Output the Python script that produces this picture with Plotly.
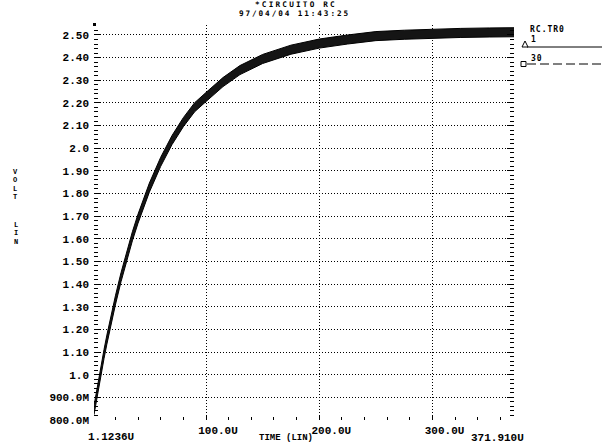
import plotly.graph_objects as go

# ---- data (time in microseconds, volts) ----
time_us = [1.1236, 3, 5, 7.5, 10, 12.5, 15, 17.5, 20, 25, 30, 35, 40, 45, 50,
           60, 70, 80, 90, 100, 115, 130, 150, 175, 200, 225, 250, 275, 300,
           325, 350, 371.91]
v_low = [0.823, 0.879, 0.936, 1.006, 1.072, 1.135, 1.195, 1.253, 1.308, 1.411,
         1.505, 1.591, 1.669, 1.741, 1.806, 1.920, 2.016, 2.095, 2.161, 2.206,
         2.272, 2.325, 2.374, 2.415, 2.442, 2.460, 2.475, 2.481, 2.486, 2.489,
         2.491, 2.492]
v_high = [0.863, 0.919, 0.976, 1.046, 1.112, 1.175, 1.235, 1.293, 1.348, 1.451,
          1.545, 1.631, 1.709, 1.781, 1.846, 1.960, 2.056, 2.135, 2.201, 2.246,
          2.312, 2.365, 2.414, 2.455, 2.482, 2.500, 2.515, 2.521, 2.526, 2.529,
          2.531, 2.532]

y_tick_vals = [0.8, 0.9, 1.0, 1.1, 1.2, 1.3, 1.4, 1.5, 1.6, 1.7, 1.8, 1.9,
               2.0, 2.1, 2.2, 2.3, 2.4, 2.5]
y_tick_text = ["800.0M", "900.0M", "1.0", "1.10", "1.20", "1.30", "1.40",
               "1.50", "1.60", "1.70", "1.80", "1.90", "2.0", "2.10", "2.20",
               "2.30", "2.40", "2.50"]
x_tick_vals = [100, 200, 300]
x_tick_text = ["100.0U", "200.0U", "300.0U"]
x_start, x_end = 1.1236, 371.91
x_start_text, x_end_text = "1.1236U", "371.910U"
y_min, y_max = 0.8, 2.544

title_lines = ["*CIRCUITO RC", "97/04/04 11:43:25"]
legend_file = "RC.TR0"
legend_nodes = ["1", "30"]
y_title_words = ["VOLT", "LIN"]
x_title = "TIME (LIN)"

FONT = "Liberation Mono"
FONT2 = "DejaVu Sans Mono"
BASE_FONT = dict(family=FONT, size=11, color="black", weight="bold")
SMALL_FONT = dict(family=FONT2, size=7.7, color="black", weight="bold")
W, H = 612, 448
L, R, T, B = 94, 514, 25, 420


def px(x):
    return (x - L) / (R - L)


def py(y):
    return (B - y) / (B - T)


def spaced(s, ls):
    return f"<span style='letter-spacing:{ls}px'>{s}</span>"


fig = go.Figure()
fig.add_trace(go.Scatter(x=time_us, y=v_high, mode="lines",
                         line=dict(color="black", width=1), showlegend=False,
                         hoverinfo="skip"))
fig.add_trace(go.Scatter(x=time_us, y=v_low, mode="lines", fill="tonexty",
                         fillcolor="#151515",
                         line=dict(color="black", width=1), showlegend=False,
                         hoverinfo="skip"))

fig.update_layout(
    width=W, height=H, autosize=False,
    margin=dict(l=L, r=W - R, t=T, b=H - B, pad=0),
    paper_bgcolor="white", plot_bgcolor="white",
    font=BASE_FONT,
    showlegend=False,
)

fig.update_xaxes(
    range=[x_start, x_end], showline=False, zeroline=False,
    showgrid=True, gridcolor="black", gridwidth=1, griddash="1px,2px",
    tickmode="array", tickvals=x_tick_vals, ticktext=x_tick_text,
    ticks="inside", ticklen=5, tickwidth=1, tickcolor="black",
    ticklabelshift=12, ticklabelstandoff=2,
    tickfont=BASE_FONT,
    minor=dict(tickmode="linear", tick0=0, dtick=20, ticks="inside",
               ticklen=3, tickwidth=1, tickcolor="black", showgrid=False),
)
fig.update_yaxes(
    range=[y_min, y_max], showline=False, zeroline=False,
    showgrid=True, gridcolor="black", gridwidth=1, griddash="1px,2px",
    tickmode="array", tickvals=y_tick_vals, ticktext=y_tick_text,
    ticks="inside", ticklen=7, tickwidth=1, tickcolor="black", mirror="ticks",
    tickfont=BASE_FONT,
    ticklabelstandoff=4,
    minor=dict(tickmode="linear", tick0=0.8, dtick=0.02, ticks="inside",
               ticklen=4, tickwidth=1, tickcolor="black", showgrid=False),
)

ann = []
# title (two tight lines)
ann.append(dict(text=spaced(title_lines[0], 2.2), x=px(296), y=py(4.3),
                xanchor="center", yanchor="middle", font=SMALL_FONT))
ann.append(dict(text=spaced(title_lines[1], 1.9), x=px(294), y=py(13.6),
                xanchor="center", yanchor="middle", font=SMALL_FONT))
# x-axis extra labels
ann.append(dict(text=x_start_text, x=px(86), y=py(437), xanchor="left",
                yanchor="middle"))
ann.append(dict(text=x_end_text, x=px(526), y=py(438), xanchor="right",
                yanchor="middle"))
ann.append(dict(text=x_title, x=px(286), y=py(438), xanchor="center",
                yanchor="middle", font=dict(BASE_FONT, size=9)))


# y-axis title: stacked letters, tight line spacing
def stacked(word):
    return "<br>".join(f"<span style='font-size:7px'>{c}</span>" for c in word)


ann.append(dict(text=stacked(y_title_words[0]), x=px(15.5), y=py(184),
                xanchor="center", yanchor="middle",
                font=dict(BASE_FONT, size=6.4)))
ann.append(dict(text=stacked(y_title_words[1]), x=px(15.5), y=py(234),
                xanchor="center", yanchor="middle",
                font=dict(BASE_FONT, size=6.4)))
# legend text
ann.append(dict(text=spaced(legend_file, 1.0), x=px(528), y=py(29.8),
                xanchor="left", yanchor="middle", font=dict(SMALL_FONT, size=8)))
ann.append(dict(text=legend_nodes[0], x=px(529), y=py(40), xanchor="left",
                yanchor="middle", font=dict(SMALL_FONT, size=8)))
ann.append(dict(text=spaced(legend_nodes[1], 1.0), x=px(529), y=py(58),
                xanchor="left", yanchor="middle", font=dict(SMALL_FONT, size=8)))
for a in ann:
    a.update(xref="paper", yref="paper", showarrow=False)
    a.setdefault("font", BASE_FONT)

shapes = []
# legend line 1 with triangle
shapes.append(dict(type="line", x0=px(527), x1=px(602), y0=py(47), y1=py(47),
                   line=dict(color="black", width=1)))
tx, ty = 525, 47
shapes.append(dict(type="path",
                   path=f"M {px(tx-3)} {py(ty)} L {px(tx+3)} {py(ty)} L {px(tx)} {py(ty-6)} Z",
                   line=dict(color="black", width=1), fillcolor="white"))
# legend line 2 with square
shapes.append(dict(type="line", x0=px(527), x1=px(602), y0=py(64), y1=py(64),
                   line=dict(color="black", width=1, dash="9px,4px")))
shapes.append(dict(type="rect", x0=px(521), x1=px(526), y0=py(61.5), y1=py(66.5),
                   line=dict(color="black", width=1), fillcolor="white"))
# small black square at top of frame
shapes.append(dict(type="rect", x0=px(93), x1=px(96), y0=py(26), y1=py(23),
                   line=dict(width=0), fillcolor="black"))
for s in shapes:
    s.update(xref="paper", yref="paper")

fig.update_layout(annotations=ann, shapes=shapes)
fig.write_html("out.html",
               config={"displayModeBar": False},
               post_script="document.body.style.margin='0';"
                           "document.body.style.overflow='hidden';")
